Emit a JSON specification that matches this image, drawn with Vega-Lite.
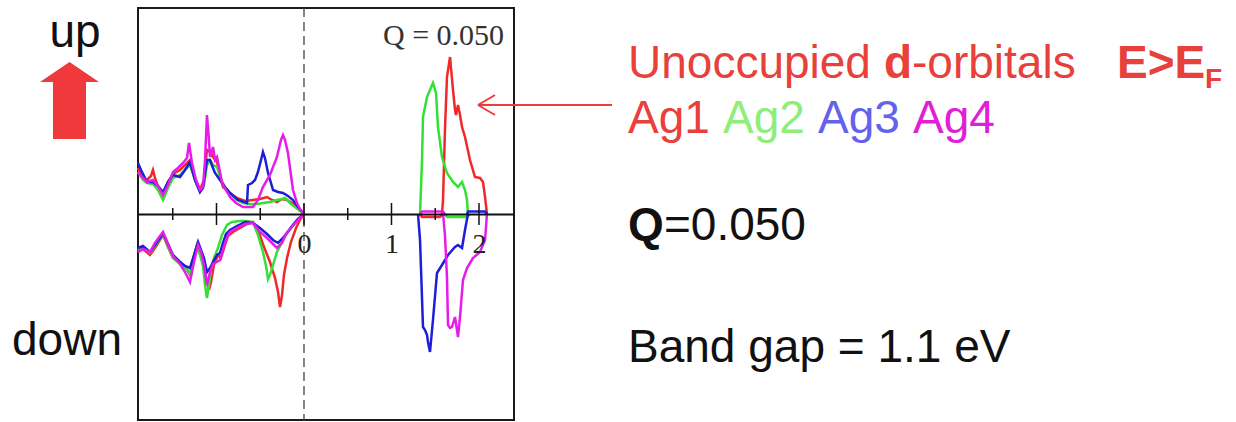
{
"$schema":"https://vega.github.io/schema/vega-lite/v6.json",
"width":376,"height":412,"autosize":"none",
"padding":{"left":138,"top":8,"right":722,"bottom":2},
"background":"white",
"config":{"view":{"stroke":"#1a1a1a","strokeWidth":2}},
"layer":[
{"data":{"values":[{}]},"mark":{"type":"rule","strokeDash":[9,5],"color":"#444","strokeWidth":1.3},"encoding":{"x":{"datum":0,"type":"quantitative"}}},
{"data":{"values":[
{"s":"Ag1","k":"uL","E":-1.897,"D":4.6},{"s":"Ag1","k":"uL","E":-1.840,"D":3.6},{"s":"Ag1","k":"uL","E":-1.794,"D":3.4},{"s":"Ag1","k":"uL","E":-1.749,"D":3.8},{"s":"Ag1","k":"uL","E":-1.726,"D":4.4},{"s":"Ag1","k":"uL","E":-1.703,"D":3.6},{"s":"Ag1","k":"uL","E":-1.669,"D":2.8},{"s":"Ag1","k":"uL","E":-1.611,"D":2.0},{"s":"Ag1","k":"uL","E":-1.554,"D":3.2},{"s":"Ag1","k":"uL","E":-1.497,"D":4.0},{"s":"Ag1","k":"uL","E":-1.417,"D":4.4},{"s":"Ag1","k":"uL","E":-1.360,"D":4.9},{"s":"Ag1","k":"uL","E":-1.303,"D":5.4},{"s":"Ag1","k":"uL","E":-1.246,"D":3.6},{"s":"Ag1","k":"uL","E":-1.189,"D":2.4},{"s":"Ag1","k":"uL","E":-1.143,"D":3.4},{"s":"Ag1","k":"uL","E":-1.109,"D":6.4},{"s":"Ag1","k":"uL","E":-1.074,"D":6.2},{"s":"Ag1","k":"uL","E":-1.040,"D":5.7},{"s":"Ag1","k":"uL","E":-0.994,"D":5.2},{"s":"Ag1","k":"uL","E":-0.960,"D":3.9},{"s":"Ag1","k":"uL","E":-0.926,"D":2.7},{"s":"Ag1","k":"uL","E":-0.846,"D":2.1},{"s":"Ag1","k":"uL","E":-0.766,"D":1.6},{"s":"Ag1","k":"uL","E":-0.674,"D":1.3},{"s":"Ag1","k":"uL","E":-0.583,"D":1.4},{"s":"Ag1","k":"uL","E":-0.503,"D":1.5},{"s":"Ag1","k":"uL","E":-0.423,"D":1.7},{"s":"Ag1","k":"uL","E":-0.366,"D":1.4},{"s":"Ag1","k":"uL","E":-0.309,"D":1.2},{"s":"Ag1","k":"uL","E":-0.251,"D":1.5},{"s":"Ag1","k":"uL","E":-0.194,"D":1.4},{"s":"Ag1","k":"uL","E":-0.137,"D":1.1},{"s":"Ag1","k":"uL","E":-0.080,"D":0.7},{"s":"Ag1","k":"uL","E":0,"D":0},
{"s":"Ag1","k":"uR","E":1.577,"D":0},{"s":"Ag1","k":"uR","E":1.589,"D":1.4},{"s":"Ag1","k":"uR","E":1.611,"D":8.4},{"s":"Ag1","k":"uR","E":1.634,"D":13.7},{"s":"Ag1","k":"uR","E":1.669,"D":15.7},{"s":"Ag1","k":"uR","E":1.703,"D":12.4},{"s":"Ag1","k":"uR","E":1.726,"D":10.4},{"s":"Ag1","k":"uR","E":1.737,"D":9.9},{"s":"Ag1","k":"uR","E":1.760,"D":10.9},{"s":"Ag1","k":"uR","E":1.783,"D":9.9},{"s":"Ag1","k":"uR","E":1.806,"D":8.7},{"s":"Ag1","k":"uR","E":1.840,"D":7.7},{"s":"Ag1","k":"uR","E":1.897,"D":5.4},{"s":"Ag1","k":"uR","E":1.954,"D":3.7},{"s":"Ag1","k":"uR","E":2.011,"D":3.6},{"s":"Ag1","k":"uR","E":2.046,"D":3.2},{"s":"Ag1","k":"uR","E":2.069,"D":1.7},{"s":"Ag1","k":"uR","E":2.091,"D":0},
{"s":"Ag1","k":"dL","E":-1.897,"D":-3.8},{"s":"Ag1","k":"dL","E":-1.840,"D":-3.5},{"s":"Ag1","k":"dL","E":-1.760,"D":-4.1},{"s":"Ag1","k":"dL","E":-1.703,"D":-3.4},{"s":"Ag1","k":"dL","E":-1.646,"D":-2.6},{"s":"Ag1","k":"dL","E":-1.611,"D":-2.1},{"s":"Ag1","k":"dL","E":-1.554,"D":-3.3},{"s":"Ag1","k":"dL","E":-1.497,"D":-4.4},{"s":"Ag1","k":"dL","E":-1.417,"D":-4.8},{"s":"Ag1","k":"dL","E":-1.360,"D":-5.2},{"s":"Ag1","k":"dL","E":-1.303,"D":-6.1},{"s":"Ag1","k":"dL","E":-1.269,"D":-4.6},{"s":"Ag1","k":"dL","E":-1.223,"D":-3.1},{"s":"Ag1","k":"dL","E":-1.189,"D":-3.8},{"s":"Ag1","k":"dL","E":-1.154,"D":-4.6},{"s":"Ag1","k":"dL","E":-1.120,"D":-6.4},{"s":"Ag1","k":"dL","E":-1.086,"D":-7.6},{"s":"Ag1","k":"dL","E":-1.063,"D":-6.8},{"s":"Ag1","k":"dL","E":-1.029,"D":-5.1},{"s":"Ag1","k":"dL","E":-0.983,"D":-4.1},{"s":"Ag1","k":"dL","E":-0.949,"D":-4.4},{"s":"Ag1","k":"dL","E":-0.903,"D":-3.1},{"s":"Ag1","k":"dL","E":-0.869,"D":-2.2},{"s":"Ag1","k":"dL","E":-0.811,"D":-1.8},{"s":"Ag1","k":"dL","E":-0.731,"D":-1.4},{"s":"Ag1","k":"dL","E":-0.651,"D":-1.0},{"s":"Ag1","k":"dL","E":-0.583,"D":-0.8},{"s":"Ag1","k":"dL","E":-0.526,"D":-1.6},{"s":"Ag1","k":"dL","E":-0.457,"D":-3.3},{"s":"Ag1","k":"dL","E":-0.389,"D":-4.8},{"s":"Ag1","k":"dL","E":-0.331,"D":-6.4},{"s":"Ag1","k":"dL","E":-0.297,"D":-7.8},{"s":"Ag1","k":"dL","E":-0.274,"D":-9.3},{"s":"Ag1","k":"dL","E":-0.251,"D":-8.1},{"s":"Ag1","k":"dL","E":-0.229,"D":-6.1},{"s":"Ag1","k":"dL","E":-0.194,"D":-4.4},{"s":"Ag1","k":"dL","E":-0.149,"D":-2.8},{"s":"Ag1","k":"dL","E":-0.091,"D":-1.4},{"s":"Ag1","k":"dL","E":-0.046,"D":-0.6},{"s":"Ag1","k":"dL","E":0,"D":0},
{"s":"Ag1","k":"dR","E":1.326,"D":0},{"s":"Ag1","k":"dR","E":1.349,"D":-0.3},{"s":"Ag1","k":"dR","E":1.554,"D":-0.3},{"s":"Ag1","k":"dR","E":1.589,"D":0},
{"s":"Ag2","k":"uL","E":-1.897,"D":4.2},{"s":"Ag2","k":"uL","E":-1.840,"D":3.4},{"s":"Ag2","k":"uL","E":-1.794,"D":3.1},{"s":"Ag2","k":"uL","E":-1.726,"D":3.0},{"s":"Ag2","k":"uL","E":-1.669,"D":2.4},{"s":"Ag2","k":"uL","E":-1.611,"D":1.4},{"s":"Ag2","k":"uL","E":-1.554,"D":2.6},{"s":"Ag2","k":"uL","E":-1.497,"D":3.6},{"s":"Ag2","k":"uL","E":-1.417,"D":3.9},{"s":"Ag2","k":"uL","E":-1.360,"D":4.4},{"s":"Ag2","k":"uL","E":-1.303,"D":4.9},{"s":"Ag2","k":"uL","E":-1.246,"D":3.4},{"s":"Ag2","k":"uL","E":-1.189,"D":2.2},{"s":"Ag2","k":"uL","E":-1.143,"D":2.9},{"s":"Ag2","k":"uL","E":-1.109,"D":4.9},{"s":"Ag2","k":"uL","E":-1.074,"D":5.4},{"s":"Ag2","k":"uL","E":-1.040,"D":4.9},{"s":"Ag2","k":"uL","E":-0.994,"D":4.7},{"s":"Ag2","k":"uL","E":-0.960,"D":3.7},{"s":"Ag2","k":"uL","E":-0.903,"D":2.7},{"s":"Ag2","k":"uL","E":-0.846,"D":2.1},{"s":"Ag2","k":"uL","E":-0.766,"D":1.4},{"s":"Ag2","k":"uL","E":-0.697,"D":1.1},{"s":"Ag2","k":"uL","E":-0.617,"D":1.0},{"s":"Ag2","k":"uL","E":-0.537,"D":1.0},{"s":"Ag2","k":"uL","E":-0.469,"D":1.1},{"s":"Ag2","k":"uL","E":-0.389,"D":1.2},{"s":"Ag2","k":"uL","E":-0.309,"D":1.4},{"s":"Ag2","k":"uL","E":-0.251,"D":1.5},{"s":"Ag2","k":"uL","E":-0.217,"D":1.6},{"s":"Ag2","k":"uL","E":-0.183,"D":1.3},{"s":"Ag2","k":"uL","E":-0.160,"D":1.1},{"s":"Ag2","k":"uL","E":-0.103,"D":0.7},{"s":"Ag2","k":"uL","E":0,"D":0},
{"s":"Ag2","k":"uR","E":1.326,"D":0},{"s":"Ag2","k":"uR","E":1.349,"D":5.4},{"s":"Ag2","k":"uR","E":1.360,"D":9.7},{"s":"Ag2","k":"uR","E":1.406,"D":11.7},{"s":"Ag2","k":"uR","E":1.440,"D":12.4},{"s":"Ag2","k":"uR","E":1.474,"D":13.1},{"s":"Ag2","k":"uR","E":1.509,"D":12.1},{"s":"Ag2","k":"uR","E":1.531,"D":8.7},{"s":"Ag2","k":"uR","E":1.577,"D":5.7},{"s":"Ag2","k":"uR","E":1.634,"D":4.1},{"s":"Ag2","k":"uR","E":1.703,"D":3.2},{"s":"Ag2","k":"uR","E":1.760,"D":2.7},{"s":"Ag2","k":"uR","E":1.806,"D":3.2},{"s":"Ag2","k":"uR","E":1.840,"D":2.4},{"s":"Ag2","k":"uR","E":1.863,"D":1.4},{"s":"Ag2","k":"uR","E":1.874,"D":0},
{"s":"Ag2","k":"dL","E":-1.897,"D":-3.6},{"s":"Ag2","k":"dL","E":-1.840,"D":-3.3},{"s":"Ag2","k":"dL","E":-1.760,"D":-3.9},{"s":"Ag2","k":"dL","E":-1.703,"D":-3.2},{"s":"Ag2","k":"dL","E":-1.646,"D":-2.5},{"s":"Ag2","k":"dL","E":-1.611,"D":-2.0},{"s":"Ag2","k":"dL","E":-1.554,"D":-3.2},{"s":"Ag2","k":"dL","E":-1.497,"D":-4.4},{"s":"Ag2","k":"dL","E":-1.417,"D":-5.0},{"s":"Ag2","k":"dL","E":-1.360,"D":-5.4},{"s":"Ag2","k":"dL","E":-1.303,"D":-6.0},{"s":"Ag2","k":"dL","E":-1.269,"D":-4.6},{"s":"Ag2","k":"dL","E":-1.223,"D":-3.2},{"s":"Ag2","k":"dL","E":-1.189,"D":-4.1},{"s":"Ag2","k":"dL","E":-1.154,"D":-5.2},{"s":"Ag2","k":"dL","E":-1.131,"D":-7.1},{"s":"Ag2","k":"dL","E":-1.109,"D":-8.4},{"s":"Ag2","k":"dL","E":-1.086,"D":-7.1},{"s":"Ag2","k":"dL","E":-1.063,"D":-5.6},{"s":"Ag2","k":"dL","E":-1.029,"D":-4.4},{"s":"Ag2","k":"dL","E":-0.983,"D":-3.4},{"s":"Ag2","k":"dL","E":-0.937,"D":-2.1},{"s":"Ag2","k":"dL","E":-0.880,"D":-1.1},{"s":"Ag2","k":"dL","E":-0.823,"D":-0.8},{"s":"Ag2","k":"dL","E":-0.731,"D":-0.7},{"s":"Ag2","k":"dL","E":-0.651,"D":-0.7},{"s":"Ag2","k":"dL","E":-0.583,"D":-0.8},{"s":"Ag2","k":"dL","E":-0.526,"D":-2.1},{"s":"Ag2","k":"dL","E":-0.469,"D":-3.8},{"s":"Ag2","k":"dL","E":-0.434,"D":-5.2},{"s":"Ag2","k":"dL","E":-0.411,"D":-6.5},{"s":"Ag2","k":"dL","E":-0.389,"D":-6.1},{"s":"Ag2","k":"dL","E":-0.354,"D":-5.1},{"s":"Ag2","k":"dL","E":-0.309,"D":-3.8},{"s":"Ag2","k":"dL","E":-0.251,"D":-2.8},{"s":"Ag2","k":"dL","E":-0.194,"D":-1.9},{"s":"Ag2","k":"dL","E":-0.126,"D":-1.2},{"s":"Ag2","k":"dL","E":-0.046,"D":-0.4},{"s":"Ag2","k":"dL","E":0,"D":0},
{"s":"Ag2","k":"dR","E":1.611,"D":0},{"s":"Ag2","k":"dR","E":1.634,"D":-0.3},{"s":"Ag2","k":"dR","E":1.863,"D":-0.3},{"s":"Ag2","k":"dR","E":1.897,"D":0},
{"s":"Ag3","k":"uL","E":-1.897,"D":5.1},{"s":"Ag3","k":"uL","E":-1.863,"D":4.4},{"s":"Ag3","k":"uL","E":-1.794,"D":3.2},{"s":"Ag3","k":"uL","E":-1.726,"D":3.2},{"s":"Ag3","k":"uL","E":-1.669,"D":2.8},{"s":"Ag3","k":"uL","E":-1.611,"D":2.2},{"s":"Ag3","k":"uL","E":-1.554,"D":3.2},{"s":"Ag3","k":"uL","E":-1.497,"D":3.9},{"s":"Ag3","k":"uL","E":-1.417,"D":3.7},{"s":"Ag3","k":"uL","E":-1.360,"D":4.4},{"s":"Ag3","k":"uL","E":-1.303,"D":5.2},{"s":"Ag3","k":"uL","E":-1.246,"D":3.4},{"s":"Ag3","k":"uL","E":-1.189,"D":2.2},{"s":"Ag3","k":"uL","E":-1.154,"D":2.6},{"s":"Ag3","k":"uL","E":-1.109,"D":5.4},{"s":"Ag3","k":"uL","E":-1.074,"D":5.4},{"s":"Ag3","k":"uL","E":-1.040,"D":4.6},{"s":"Ag3","k":"uL","E":-1.017,"D":4.1},{"s":"Ag3","k":"uL","E":-0.960,"D":3.4},{"s":"Ag3","k":"uL","E":-0.903,"D":2.7},{"s":"Ag3","k":"uL","E":-0.846,"D":2.1},{"s":"Ag3","k":"uL","E":-0.754,"D":1.4},{"s":"Ag3","k":"uL","E":-0.651,"D":1.1},{"s":"Ag3","k":"uL","E":-0.640,"D":2.9},{"s":"Ag3","k":"uL","E":-0.594,"D":3.1},{"s":"Ag3","k":"uL","E":-0.560,"D":3.4},{"s":"Ag3","k":"uL","E":-0.526,"D":4.2},{"s":"Ag3","k":"uL","E":-0.491,"D":5.4},{"s":"Ag3","k":"uL","E":-0.469,"D":6.2},{"s":"Ag3","k":"uL","E":-0.446,"D":5.6},{"s":"Ag3","k":"uL","E":-0.411,"D":4.1},{"s":"Ag3","k":"uL","E":-0.377,"D":3.1},{"s":"Ag3","k":"uL","E":-0.354,"D":2.4},{"s":"Ag3","k":"uL","E":-0.297,"D":2.2},{"s":"Ag3","k":"uL","E":-0.240,"D":2.1},{"s":"Ag3","k":"uL","E":-0.183,"D":1.8},{"s":"Ag3","k":"uL","E":-0.126,"D":1.4},{"s":"Ag3","k":"uL","E":-0.069,"D":0.7},{"s":"Ag3","k":"uL","E":0,"D":0},
{"s":"Ag3","k":"uR","E":1.863,"D":0},{"s":"Ag3","k":"uR","E":1.874,"D":0.25},{"s":"Ag3","k":"uR","E":2.069,"D":0.25},{"s":"Ag3","k":"uR","E":2.091,"D":0},
{"s":"Ag3","k":"dL","E":-1.897,"D":-3.4},{"s":"Ag3","k":"dL","E":-1.840,"D":-3.2},{"s":"Ag3","k":"dL","E":-1.760,"D":-3.8},{"s":"Ag3","k":"dL","E":-1.703,"D":-3.1},{"s":"Ag3","k":"dL","E":-1.646,"D":-2.4},{"s":"Ag3","k":"dL","E":-1.611,"D":-1.9},{"s":"Ag3","k":"dL","E":-1.554,"D":-3.0},{"s":"Ag3","k":"dL","E":-1.497,"D":-4.1},{"s":"Ag3","k":"dL","E":-1.417,"D":-4.8},{"s":"Ag3","k":"dL","E":-1.360,"D":-5.2},{"s":"Ag3","k":"dL","E":-1.303,"D":-5.4},{"s":"Ag3","k":"dL","E":-1.257,"D":-4.1},{"s":"Ag3","k":"dL","E":-1.211,"D":-2.8},{"s":"Ag3","k":"dL","E":-1.177,"D":-3.6},{"s":"Ag3","k":"dL","E":-1.143,"D":-4.4},{"s":"Ag3","k":"dL","E":-1.109,"D":-5.8},{"s":"Ag3","k":"dL","E":-1.074,"D":-5.4},{"s":"Ag3","k":"dL","E":-1.040,"D":-4.8},{"s":"Ag3","k":"dL","E":-0.994,"D":-4.1},{"s":"Ag3","k":"dL","E":-0.960,"D":-3.9},{"s":"Ag3","k":"dL","E":-0.926,"D":-2.9},{"s":"Ag3","k":"dL","E":-0.891,"D":-2.0},{"s":"Ag3","k":"dL","E":-0.846,"D":-1.6},{"s":"Ag3","k":"dL","E":-0.766,"D":-1.2},{"s":"Ag3","k":"dL","E":-0.674,"D":-0.8},{"s":"Ag3","k":"dL","E":-0.583,"D":-0.9},{"s":"Ag3","k":"dL","E":-0.503,"D":-1.4},{"s":"Ag3","k":"dL","E":-0.423,"D":-2.0},{"s":"Ag3","k":"dL","E":-0.354,"D":-2.6},{"s":"Ag3","k":"dL","E":-0.297,"D":-2.9},{"s":"Ag3","k":"dL","E":-0.251,"D":-2.5},{"s":"Ag3","k":"dL","E":-0.194,"D":-1.9},{"s":"Ag3","k":"dL","E":-0.137,"D":-1.2},{"s":"Ag3","k":"dL","E":-0.069,"D":-0.5},{"s":"Ag3","k":"dL","E":0,"D":0},
{"s":"Ag3","k":"dR","E":1.303,"D":0},{"s":"Ag3","k":"dR","E":1.326,"D":-2.6},{"s":"Ag3","k":"dR","E":1.360,"D":-11.3},{"s":"Ag3","k":"dR","E":1.383,"D":-11.6},{"s":"Ag3","k":"dR","E":1.406,"D":-12.1},{"s":"Ag3","k":"dR","E":1.417,"D":-12.8},{"s":"Ag3","k":"dR","E":1.440,"D":-13.8},{"s":"Ag3","k":"dR","E":1.474,"D":-10.6},{"s":"Ag3","k":"dR","E":1.520,"D":-5.9},{"s":"Ag3","k":"dR","E":1.577,"D":-5.1},{"s":"Ag3","k":"dR","E":1.646,"D":-4.1},{"s":"Ag3","k":"dR","E":1.726,"D":-3.3},{"s":"Ag3","k":"dR","E":1.760,"D":-3.1},{"s":"Ag3","k":"dR","E":1.806,"D":-3.4},{"s":"Ag3","k":"dR","E":1.840,"D":-1.6},{"s":"Ag3","k":"dR","E":1.874,"D":0},
{"s":"Ag4","k":"uL","E":-1.897,"D":4.2},{"s":"Ag4","k":"uL","E":-1.840,"D":3.6},{"s":"Ag4","k":"uL","E":-1.794,"D":3.2},{"s":"Ag4","k":"uL","E":-1.726,"D":3.4},{"s":"Ag4","k":"uL","E":-1.669,"D":2.8},{"s":"Ag4","k":"uL","E":-1.611,"D":1.9},{"s":"Ag4","k":"uL","E":-1.554,"D":2.9},{"s":"Ag4","k":"uL","E":-1.497,"D":4.2},{"s":"Ag4","k":"uL","E":-1.440,"D":4.6},{"s":"Ag4","k":"uL","E":-1.383,"D":5.1},{"s":"Ag4","k":"uL","E":-1.337,"D":5.6},{"s":"Ag4","k":"uL","E":-1.314,"D":7.1},{"s":"Ag4","k":"uL","E":-1.280,"D":5.1},{"s":"Ag4","k":"uL","E":-1.234,"D":3.4},{"s":"Ag4","k":"uL","E":-1.189,"D":2.4},{"s":"Ag4","k":"uL","E":-1.154,"D":2.7},{"s":"Ag4","k":"uL","E":-1.131,"D":5.4},{"s":"Ag4","k":"uL","E":-1.109,"D":9.9},{"s":"Ag4","k":"uL","E":-1.086,"D":7.4},{"s":"Ag4","k":"uL","E":-1.074,"D":5.7},{"s":"Ag4","k":"uL","E":-1.040,"D":6.7},{"s":"Ag4","k":"uL","E":-1.017,"D":5.4},{"s":"Ag4","k":"uL","E":-0.994,"D":5.7},{"s":"Ag4","k":"uL","E":-0.960,"D":4.2},{"s":"Ag4","k":"uL","E":-0.937,"D":3.1},{"s":"Ag4","k":"uL","E":-0.891,"D":2.4},{"s":"Ag4","k":"uL","E":-0.846,"D":1.7},{"s":"Ag4","k":"uL","E":-0.777,"D":1.1},{"s":"Ag4","k":"uL","E":-0.697,"D":0.7},{"s":"Ag4","k":"uL","E":-0.583,"D":0.7},{"s":"Ag4","k":"uL","E":-0.526,"D":1.4},{"s":"Ag4","k":"uL","E":-0.469,"D":2.7},{"s":"Ag4","k":"uL","E":-0.389,"D":3.9},{"s":"Ag4","k":"uL","E":-0.309,"D":5.7},{"s":"Ag4","k":"uL","E":-0.263,"D":7.4},{"s":"Ag4","k":"uL","E":-0.240,"D":7.9},{"s":"Ag4","k":"uL","E":-0.217,"D":7.4},{"s":"Ag4","k":"uL","E":-0.183,"D":6.1},{"s":"Ag4","k":"uL","E":-0.149,"D":3.9},{"s":"Ag4","k":"uL","E":-0.126,"D":2.4},{"s":"Ag4","k":"uL","E":-0.080,"D":1.1},{"s":"Ag4","k":"uL","E":-0.046,"D":0.5},{"s":"Ag4","k":"uL","E":0,"D":0},
{"s":"Ag4","k":"uR","E":1.326,"D":0},{"s":"Ag4","k":"uR","E":1.349,"D":0.25},{"s":"Ag4","k":"uR","E":1.589,"D":0.25},{"s":"Ag4","k":"uR","E":1.611,"D":0},
{"s":"Ag4","k":"dL","E":-1.897,"D":-3.8},{"s":"Ag4","k":"dL","E":-1.840,"D":-3.5},{"s":"Ag4","k":"dL","E":-1.760,"D":-3.8},{"s":"Ag4","k":"dL","E":-1.703,"D":-2.9},{"s":"Ag4","k":"dL","E":-1.646,"D":-2.2},{"s":"Ag4","k":"dL","E":-1.611,"D":-1.8},{"s":"Ag4","k":"dL","E":-1.554,"D":-3.0},{"s":"Ag4","k":"dL","E":-1.497,"D":-4.2},{"s":"Ag4","k":"dL","E":-1.417,"D":-5.0},{"s":"Ag4","k":"dL","E":-1.360,"D":-5.8},{"s":"Ag4","k":"dL","E":-1.303,"D":-6.8},{"s":"Ag4","k":"dL","E":-1.257,"D":-4.8},{"s":"Ag4","k":"dL","E":-1.211,"D":-3.1},{"s":"Ag4","k":"dL","E":-1.177,"D":-3.8},{"s":"Ag4","k":"dL","E":-1.143,"D":-5.1},{"s":"Ag4","k":"dL","E":-1.109,"D":-7.1},{"s":"Ag4","k":"dL","E":-1.074,"D":-5.8},{"s":"Ag4","k":"dL","E":-1.040,"D":-5.0},{"s":"Ag4","k":"dL","E":-0.994,"D":-4.8},{"s":"Ag4","k":"dL","E":-0.960,"D":-4.6},{"s":"Ag4","k":"dL","E":-0.926,"D":-3.6},{"s":"Ag4","k":"dL","E":-0.891,"D":-2.6},{"s":"Ag4","k":"dL","E":-0.846,"D":-1.8},{"s":"Ag4","k":"dL","E":-0.766,"D":-1.4},{"s":"Ag4","k":"dL","E":-0.674,"D":-1.0},{"s":"Ag4","k":"dL","E":-0.583,"D":-0.9},{"s":"Ag4","k":"dL","E":-0.503,"D":-1.8},{"s":"Ag4","k":"dL","E":-0.423,"D":-2.4},{"s":"Ag4","k":"dL","E":-0.354,"D":-3.0},{"s":"Ag4","k":"dL","E":-0.309,"D":-3.4},{"s":"Ag4","k":"dL","E":-0.251,"D":-2.9},{"s":"Ag4","k":"dL","E":-0.206,"D":-2.0},{"s":"Ag4","k":"dL","E":-0.160,"D":-1.5},{"s":"Ag4","k":"dL","E":-0.080,"D":-0.7},{"s":"Ag4","k":"dL","E":0,"D":0},
{"s":"Ag4","k":"dR","E":1.589,"D":0},{"s":"Ag4","k":"dR","E":1.611,"D":-2.1},{"s":"Ag4","k":"dR","E":1.634,"D":-6.3},{"s":"Ag4","k":"dR","E":1.646,"D":-11.1},{"s":"Ag4","k":"dR","E":1.669,"D":-11.4},{"s":"Ag4","k":"dR","E":1.691,"D":-11.3},{"s":"Ag4","k":"dR","E":1.726,"D":-10.3},{"s":"Ag4","k":"dR","E":1.760,"D":-12.3},{"s":"Ag4","k":"dR","E":1.783,"D":-10.3},{"s":"Ag4","k":"dR","E":1.817,"D":-6.6},{"s":"Ag4","k":"dR","E":1.863,"D":-5.4},{"s":"Ag4","k":"dR","E":1.931,"D":-4.4},{"s":"Ag4","k":"dR","E":2.011,"D":-3.8},{"s":"Ag4","k":"dR","E":2.069,"D":-2.6},{"s":"Ag4","k":"dR","E":2.091,"D":0}
]},
"mark":{"type":"line","strokeWidth":2.5},
"encoding":{
"x":{"field":"E","type":"quantitative","scale":{"domain":[-1.897,2.4],"nice":false,"zero":false},
"axis":{"orient":"bottom","offset":-206,"zindex":1,"title":null,"grid":false,"ticks":false,"values":[0,1,2],"domainColor":"#111","domainWidth":2.2,"labelFont":"Liberation Serif","labelFontSize":28,"labelColor":"#222","labelPadding":16,"format":"d"}},
"y":{"field":"D","type":"quantitative","scale":{"domain":[-20.6,20.6],"nice":false,"zero":false},"axis":null},
"color":{"field":"s","type":"nominal","scale":{"domain":["Ag1","Ag2","Ag3","Ag4"],"range":["#F02828","#33E033","#1E1ED8","#E81CE8"]},"legend":null},
"detail":{"field":"k"}
}},
{"data":{"values":[{"t":-1},{"t":0},{"t":1},{"t":2}]},"mark":{"type":"rule","color":"#111","strokeWidth":1.5},"encoding":{"x":{"field":"t","type":"quantitative"},"y":{"datum":-1.1,"type":"quantitative"},"y2":{"datum":1.1}}},
{"data":{"values":[{"t":-1.5},{"t":-0.5},{"t":0.5},{"t":1.5}]},"mark":{"type":"rule","color":"#111","strokeWidth":1.5},"encoding":{"x":{"field":"t","type":"quantitative"},"y":{"datum":-0.6,"type":"quantitative"},"y2":{"datum":0.6}}},
{"data":{"values":[{}]},"mark":{"type":"text","text":"Q = 0.050","font":"Liberation Serif","fontSize":30,"align":"left","baseline":"alphabetic","color":"#333"},"encoding":{"x":{"datum":0.903,"type":"quantitative"},"y":{"datum":16.9,"type":"quantitative"}}},
{"data":{"values":[{}]},"mark":{"type":"text","text":"up","font":"Liberation Sans","fontSize":46,"align":"center","baseline":"alphabetic","color":"#111"},"encoding":{"x":{"datum":-2.617,"type":"quantitative"},"y":{"datum":16.7,"type":"quantitative"}}},
{"data":{"values":[{}]},"mark":{"type":"text","text":"down","font":"Liberation Sans","fontSize":46,"align":"left","baseline":"alphabetic","color":"#111"},"encoding":{"x":{"datum":-3.337,"type":"quantitative"},"y":{"datum":-14.1,"type":"quantitative"}}},
{"data":{"values":[{}]},"mark":{"type":"point","shape":"M0,-1.305 L1,-0.627 L0.56,-0.627 L0.56,1.305 L-0.56,1.305 L-0.56,-0.627 L-1,-0.627 Z","size":3481,"filled":true,"fill":"#F0393A","opacity":1,"strokeWidth":0},"encoding":{"x":{"datum":-2.68,"type":"quantitative"},"y":{"datum":11.35,"type":"quantitative"}}},
{"data":{"values":[{}]},"mark":{"type":"text","text":"Unoccupied","font":"Liberation Sans","fontSize":46,"align":"left","baseline":"alphabetic","color":"#E8403B"},"encoding":{"x":{"datum":3.703,"type":"quantitative"},"y":{"datum":13.6,"type":"quantitative"}}},
{"data":{"values":[{}]},"mark":{"type":"text","text":"d","font":"Liberation Sans","fontWeight":"bold","fontSize":46,"align":"left","baseline":"alphabetic","color":"#E8403B"},"encoding":{"x":{"datum":6.629,"type":"quantitative"},"y":{"datum":13.6,"type":"quantitative"}}},
{"data":{"values":[{}]},"mark":{"type":"text","text":"-orbitals","font":"Liberation Sans","fontSize":46,"align":"left","baseline":"alphabetic","color":"#E8403B"},"encoding":{"x":{"datum":6.949,"type":"quantitative"},"y":{"datum":13.6,"type":"quantitative"}}},
{"data":{"values":[{}]},"mark":{"type":"text","text":"E>E","font":"Liberation Sans","fontWeight":"bold","fontSize":46,"align":"left","baseline":"alphabetic","color":"#E8403B"},"encoding":{"x":{"datum":9.291,"type":"quantitative"},"y":{"datum":13.6,"type":"quantitative"}}},
{"data":{"values":[{}]},"mark":{"type":"text","text":"F","font":"Liberation Sans","fontWeight":"bold","fontSize":28,"align":"left","baseline":"alphabetic","color":"#E8403B"},"encoding":{"x":{"datum":10.297,"type":"quantitative"},"y":{"datum":12.6,"type":"quantitative"}}},
{"data":{"values":[{}]},"mark":{"type":"text","text":"Ag1","font":"Liberation Sans","fontSize":46,"align":"left","baseline":"alphabetic","color":"#E8403B"},"encoding":{"x":{"datum":3.703,"type":"quantitative"},"y":{"datum":8.1,"type":"quantitative"}}},
{"data":{"values":[{}]},"mark":{"type":"text","text":"Ag2","font":"Liberation Sans","fontSize":46,"align":"left","baseline":"alphabetic","color":"#8DEE78"},"encoding":{"x":{"datum":4.789,"type":"quantitative"},"y":{"datum":8.1,"type":"quantitative"}}},
{"data":{"values":[{}]},"mark":{"type":"text","text":"Ag3","font":"Liberation Sans","fontSize":46,"align":"left","baseline":"alphabetic","color":"#6262EC"},"encoding":{"x":{"datum":5.874,"type":"quantitative"},"y":{"datum":8.1,"type":"quantitative"}}},
{"data":{"values":[{}]},"mark":{"type":"text","text":"Ag4","font":"Liberation Sans","fontSize":46,"align":"left","baseline":"alphabetic","color":"#E020D6"},"encoding":{"x":{"datum":6.96,"type":"quantitative"},"y":{"datum":8.1,"type":"quantitative"}}},
{"data":{"values":[{}]},"mark":{"type":"text","text":"Q","font":"Liberation Sans","fontWeight":"bold","fontSize":46,"align":"left","baseline":"alphabetic","color":"#111"},"encoding":{"x":{"datum":3.703,"type":"quantitative"},"y":{"datum":-2.6,"type":"quantitative"}}},
{"data":{"values":[{}]},"mark":{"type":"text","text":"=0.050","font":"Liberation Sans","fontSize":46,"align":"left","baseline":"alphabetic","color":"#111"},"encoding":{"x":{"datum":4.114,"type":"quantitative"},"y":{"datum":-2.6,"type":"quantitative"}}},
{"data":{"values":[{}]},"mark":{"type":"text","text":"Band gap = 1.1 eV","font":"Liberation Sans","fontSize":46,"align":"left","baseline":"alphabetic","color":"#111"},"encoding":{"x":{"datum":3.703,"type":"quantitative"},"y":{"datum":-14.8,"type":"quantitative"}}},
{"data":{"values":[{}]},"mark":{"type":"rule","color":"#EE3B3B","strokeWidth":2},"encoding":{"x":{"datum":1.989,"type":"quantitative"},"x2":{"datum":3.52},"y":{"datum":10.9,"type":"quantitative"}}},
{"data":{"values":[{}]},"mark":{"type":"rule","color":"#EE3B3B","strokeWidth":2},"encoding":{"x":{"datum":1.989,"type":"quantitative"},"x2":{"datum":2.183},"y":{"datum":10.9,"type":"quantitative"},"y2":{"datum":11.9}}},
{"data":{"values":[{}]},"mark":{"type":"rule","color":"#EE3B3B","strokeWidth":2},"encoding":{"x":{"datum":1.989,"type":"quantitative"},"x2":{"datum":2.183},"y":{"datum":10.9,"type":"quantitative"},"y2":{"datum":9.9}}}
]
}
